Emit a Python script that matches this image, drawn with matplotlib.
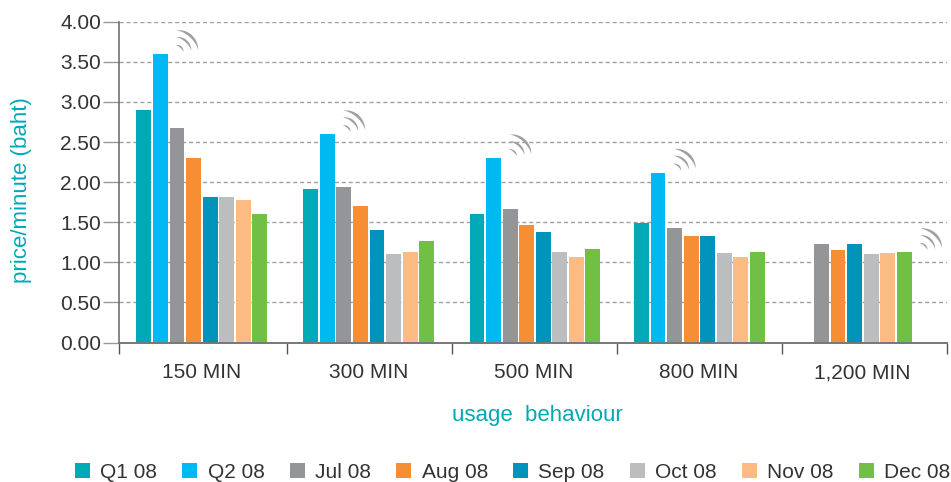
"""Price per minute by usage behaviour, grouped bars with signal marks."""

import matplotlib

matplotlib.use("Agg")
import matplotlib.pyplot as plt
import numpy as np
from matplotlib.offsetbox import AnnotationBbox, DrawingArea
from matplotlib.patches import Patch, Polygon

plt.rcParams["font.family"] = ["Liberation Sans", "DejaVu Sans"]

categories = ["150 MIN", "300 MIN", "500 MIN", "800 MIN", "1,200 MIN"]
periods = ["Q1 08", "Q2 08", "Jul 08", "Aug 08", "Sep 08", "Oct 08", "Nov 08", "Dec 08"]
colors = ["#00a9b5", "#00b9f2", "#939598", "#f68e33", "#0093bb", "#bbbdbf", "#fdbb84", "#71bf45"]

q1_08 = [2.90, 1.92, 1.60, 1.49, np.nan]
q2_08 = [3.60, 2.60, 2.30, 2.12, np.nan]
jul_08 = [2.67, 1.94, 1.67, 1.43, 1.23]
aug_08 = [2.30, 1.70, 1.46, 1.33, 1.16]
sep_08 = [1.82, 1.40, 1.38, 1.33, 1.23]
oct_08 = [1.82, 1.10, 1.13, 1.12, 1.10]
nov_08 = [1.78, 1.13, 1.07, 1.07, 1.12]
dec_08 = [1.60, 1.27, 1.17, 1.13, 1.13]
series = [q1_08, q2_08, jul_08, aug_08, sep_08, oct_08, nov_08, dec_08]

yticks = [0, 0.5, 1, 1.5, 2, 2.5, 3, 3.5, 4]
# (group, series) of the bars carrying a signal mark
signal_bars = [(0, 1), (1, 1), (2, 1), (3, 1), (4, 7)]

W, H = 951, 482
TEXT = "#333333"
TEAL = "#00a9b5"
AXIS = "#777777"
FS = 15

# the groups are not evenly spaced, and the last one sits left of its label
group_x = np.array([0, 1.008, 2.012, 3.005, 3.892])
label_x = [0, 1.005, 2.005, 3.0, 3.99]
tick_x = [-0.5, 0.514, 1.51, 2.507, 3.504, 4.5]


def signal_mark():
    # three crescents, thickest in the middle, sized in points
    box = DrawingArea(20, 20, 0, 0)
    theta = np.radians(np.linspace(8, 88, 30))
    bulge = np.sin(np.linspace(0, np.pi, 30))
    for r, w in [(16.5, 1.0), (11.5, 0.8), (5.8, 0.6)]:
        outer = np.column_stack([(r + w * bulge) * np.cos(theta), (r + w * bulge) * np.sin(theta)])
        inner = np.column_stack([(r - w * bulge) * np.cos(theta), (r - w * bulge) * np.sin(theta)])
        pts = np.vstack([outer, inner[::-1]])
        box.add_artist(Polygon(pts, closed=True, facecolor="#a0a0a0", edgecolor="none"))
    return box


fig = plt.figure(figsize=(W / 100, H / 100), dpi=100)
ax = fig.add_axes([119 / W, 1 - 342.6 / H, (947 - 119) / W, (342.6 - 21.7) / H])

step = 0.1
for i, (vals, color) in enumerate(zip(series, colors)):
    ax.bar(group_x + (i - 3.5) * step, vals, width=0.09, color=color, zorder=2)

for g, s in signal_bars:
    ab = AnnotationBbox(
        signal_mark(),
        (group_x[g] + (s - 3.5) * step + 0.045, series[s][g]),
        xybox=(5.5, 0.5),
        xycoords="data",
        boxcoords="offset points",
        box_alignment=(0, 0),
        frameon=False,
        pad=0,
        zorder=3,
        annotation_clip=False,
    )
    ax.add_artist(ab)

ax.set_xlim(-0.5, 4.5)
ax.set_ylim(0, 4)
ax.set_yticks(yticks)
ax.set_yticklabels([f"{v:.2f}" for v in yticks], fontsize=FS, color=TEXT)
ax.set_xticks(label_x)
ax.set_xticklabels(categories, fontsize=FS, color=TEXT, va="baseline")
ax.set_xticks(tick_x, minor=True)

ax.tick_params(axis="y", length=11.5, width=1, color="#999999", pad=1.5)
ax.tick_params(axis="x", which="major", length=0, pad=25.5)
ax.tick_params(axis="x", which="minor", length=8, width=1, color="#555555")

ax.yaxis.grid(True, linestyle=(0, (3, 2)), color="#a0a0a0", lw=1, zorder=1)
ax.set_axisbelow(True)

for side in ["top", "right"]:
    ax.spines[side].set_visible(False)
ax.spines["left"].set_color("#666666")
ax.spines["left"].set_linewidth(1.1)
ax.spines["bottom"].set_color(AXIS)
ax.spines["bottom"].set_linewidth(1.4)

fig.text(22 / W, 1 - 190 / H, "price/minute (baht)", rotation=90, color=TEAL, fontsize=16, ha="center", va="center")
fig.text(537 / W, 1 - 415.5 / H, "usage  behaviour", color=TEAL, fontsize=16, ha="center", va="center")

handles = [Patch(facecolor=c, edgecolor="none") for c in colors]
fig.legend(
    handles,
    periods,
    loc="center left",
    bbox_to_anchor=(75 / W, 1 - 472 / H),
    ncol=8,
    frameon=False,
    fontsize=FS,
    labelcolor=TEXT,
    borderpad=0,
    borderaxespad=0,
    handlelength=0.72,
    handleheight=0.72,
    handletextpad=0.5,
    columnspacing=1.2,
)

fig.savefig("out.png", dpi=100)
